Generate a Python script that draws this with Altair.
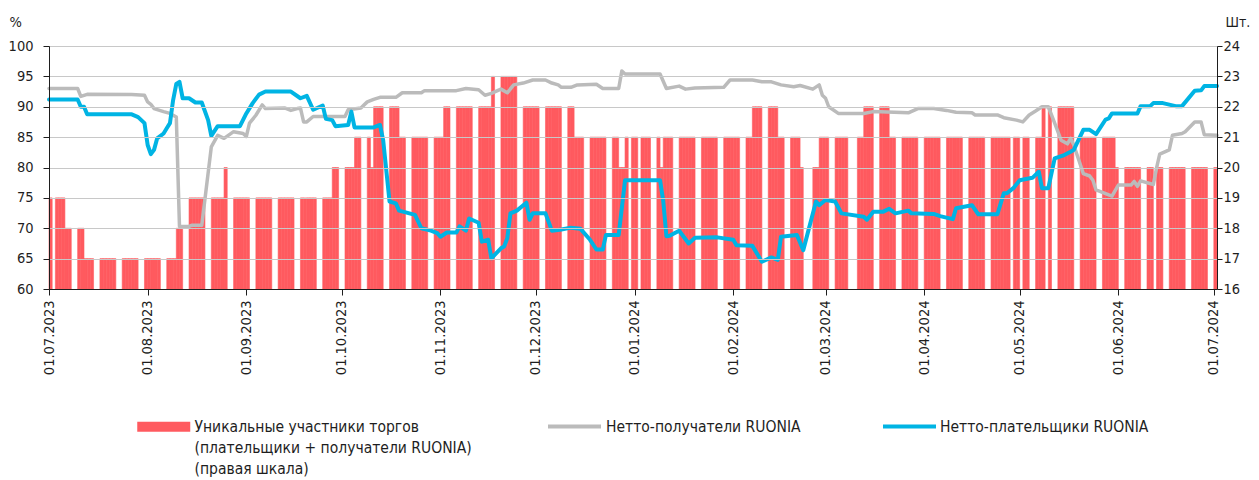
import altair as alt
import pandas as pd

RED = "#FF5A5F"
GREY = "#BBBBBB"
BLUE = "#00B4E4"
INK = "#1E1E1E"
FONT = "DejaVu Sans Condensed, DejaVu Sans, sans-serif"

# ---- bars: unique participants (right scale), runs of trading days ----
bar_run_start = ["2023-07-01", "2023-07-03", "2023-07-06", "2023-07-12", "2023-08-10", "2023-08-14",
                 "2023-08-25", "2023-08-28", "2023-09-28", "2023-10-05", "2023-10-10", "2023-10-11",
                 "2023-10-19", "2023-11-02", "2023-11-17", "2023-11-27", "2023-12-13", "2023-12-27",
                 "2023-12-29", "2023-12-31", "2024-01-01", "2024-01-03", "2024-01-09", "2024-01-10",
                 "2024-02-07", "2024-02-15", "2024-02-22", "2024-02-26", "2024-02-28", "2024-03-11",
                 "2024-03-13", "2024-03-21", "2024-04-27", "2024-04-29", "2024-05-02", "2024-05-08",
                 "2024-05-10", "2024-05-13", "2024-05-20", "2024-05-31", "2024-06-13"]
bar_run_end = ["2023-07-01", "2023-07-05", "2023-07-11", "2023-08-09", "2023-08-11", "2023-08-24",
               "2023-08-25", "2023-09-27", "2023-10-04", "2023-10-09", "2023-10-10", "2023-10-18",
               "2023-11-01", "2023-11-16", "2023-11-24", "2023-12-12", "2023-12-26", "2023-12-28",
               "2023-12-29", "2023-12-31", "2024-01-01", "2024-01-08", "2024-01-09", "2024-02-06",
               "2024-02-14", "2024-02-21", "2024-02-22", "2024-02-27", "2024-03-07", "2024-03-12",
               "2024-03-20", "2024-04-26", "2024-04-27", "2024-04-30", "2024-05-07", "2024-05-08",
               "2024-05-10", "2024-05-17", "2024-05-30", "2024-06-11", "2024-07-01"]
bar_run_value = [19, 19, 18, 17, 18, 19,
                 20, 19, 20, 21, 20, 22,
                 21, 22, 23, 22, 21, 20,
                 21, 21, 21, 21, 20, 21,
                 22, 21, 20, 20, 21, 21,
                 22, 21, 21, 21, 21, 22,
                 22, 22, 21, 20, 20]

# ---- lines: share of net receivers / net payers, % (left scale) ----
grey_dates = ["2023-07-01", "2023-07-10", "2023-07-11", "2023-07-13", "2023-07-27", "2023-07-31", "2023-08-01",
              "2023-08-02", "2023-08-03", "2023-08-06", "2023-08-08", "2023-08-10", "2023-08-11", "2023-08-14",
              "2023-08-15", "2023-08-18", "2023-08-21", "2023-08-23", "2023-08-25", "2023-08-28", "2023-08-31",
              "2023-09-01", "2023-09-02", "2023-09-04", "2023-09-06", "2023-09-07", "2023-09-13", "2023-09-15",
              "2023-09-17", "2023-09-18", "2023-09-19", "2023-09-20", "2023-09-22", "2023-10-02", "2023-10-03",
              "2023-10-07", "2023-10-09", "2023-10-11", "2023-10-13", "2023-10-18", "2023-10-20", "2023-10-26",
              "2023-10-27", "2023-11-06", "2023-11-09", "2023-11-13", "2023-11-15", "2023-11-17", "2023-11-20",
              "2023-11-22", "2023-11-24", "2023-11-27", "2023-11-30", "2023-12-04", "2023-12-06", "2023-12-08",
              "2023-12-09", "2023-12-12", "2023-12-14", "2023-12-20", "2023-12-22", "2023-12-27", "2023-12-28",
              "2023-12-29", "2024-01-09", "2024-01-11", "2024-01-15", "2024-01-17", "2024-01-20", "2024-01-29",
              "2024-01-31", "2024-02-07", "2024-02-10", "2024-02-13", "2024-02-16", "2024-02-20", "2024-02-22",
              "2024-02-26", "2024-02-28", "2024-02-29", "2024-03-01", "2024-03-02", "2024-03-05", "2024-03-13",
              "2024-03-16", "2024-03-27", "2024-03-30", "2024-04-04", "2024-04-08", "2024-04-11", "2024-04-16",
              "2024-04-17", "2024-04-24", "2024-04-26", "2024-04-30", "2024-05-02", "2024-05-04", "2024-05-06",
              "2024-05-08", "2024-05-10", "2024-05-12", "2024-05-14", "2024-05-16", "2024-05-17", "2024-05-18",
              "2024-05-21", "2024-05-23", "2024-05-24", "2024-05-25", "2024-05-28", "2024-05-30", "2024-06-01",
              "2024-06-05", "2024-06-06", "2024-06-07", "2024-06-08", "2024-06-12", "2024-06-13", "2024-06-14",
              "2024-06-17", "2024-06-18", "2024-06-21", "2024-06-22", "2024-06-25", "2024-06-27", "2024-06-28",
              "2024-07-02"]
grey_values = [93.0, 93.0, 91.7, 92.05, 92.0, 91.9, 90.8,
               90.4, 89.7, 89.2, 88.9, 88.3, 70.3, 70.3,
               70.5, 70.5, 83.4, 85.3, 84.8, 85.9, 85.6,
               85.1, 87.3, 88.6, 90.3, 89.7, 89.8, 89.4,
               89.7, 89.8, 87.5, 87.5, 88.4, 88.4, 89.5,
               89.8, 90.8, 91.2, 91.55, 91.55, 92.3, 92.3,
               92.65, 92.65, 93.0, 92.8, 91.9, 92.2, 92.9,
               92.3, 93.6, 93.9, 94.4, 94.4, 93.9, 93.6,
               93.2, 93.2, 93.6, 93.7, 93.0, 93.0, 95.9,
               95.4, 95.4, 93.0, 93.4, 92.9, 93.1, 93.2,
               94.4, 94.4, 94.1, 94.1, 93.6, 93.3, 93.5,
               92.9, 93.6, 91.9, 91.4, 90.0, 88.9, 88.9,
               89.2, 89.0, 89.7, 89.7, 89.4, 89.1, 89.0,
               88.65, 88.65, 88.2, 87.8, 87.5, 88.65, 89.3,
               90.0, 90.0, 87.3, 84.5, 83.9, 84.8, 83.7,
               79.0, 78.6, 77.9, 76.3, 75.7, 75.3, 77.1,
               77.1, 77.7, 76.9, 77.8, 77.2, 79.9, 82.2,
               82.9, 85.3, 85.6, 85.9, 87.5, 87.5, 85.4,
               85.3]

blue_dates = ["2023-07-01", "2023-07-10", "2023-07-11", "2023-07-12", "2023-07-13", "2023-07-27", "2023-07-29",
              "2023-07-31", "2023-08-01", "2023-08-02", "2023-08-03", "2023-08-04", "2023-08-06", "2023-08-07",
              "2023-08-08", "2023-08-09", "2023-08-10", "2023-08-11", "2023-08-12", "2023-08-14", "2023-08-16",
              "2023-08-18", "2023-08-20", "2023-08-21", "2023-08-23", "2023-08-30", "2023-09-01", "2023-09-03",
              "2023-09-05", "2023-09-07", "2023-09-15", "2023-09-18", "2023-09-20", "2023-09-22", "2023-09-25",
              "2023-09-26", "2023-09-28", "2023-09-29", "2023-10-03", "2023-10-04", "2023-10-05", "2023-10-11",
              "2023-10-13", "2023-10-14", "2023-10-16", "2023-10-18", "2023-10-19", "2023-10-24", "2023-10-26",
              "2023-10-29", "2023-10-31", "2023-11-01", "2023-11-03", "2023-11-06", "2023-11-07", "2023-11-09",
              "2023-11-10", "2023-11-13", "2023-11-14", "2023-11-16", "2023-11-17", "2023-11-20", "2023-11-21",
              "2023-11-22", "2023-11-23", "2023-11-25", "2023-11-28", "2023-11-29", "2023-11-30", "2023-12-04",
              "2023-12-06", "2023-12-09", "2023-12-12", "2023-12-15", "2023-12-18", "2023-12-20", "2023-12-22",
              "2023-12-23", "2023-12-27", "2023-12-29", "2024-01-09", "2024-01-10", "2024-01-11", "2024-01-12",
              "2024-01-15", "2024-01-18", "2024-01-20", "2024-01-27", "2024-02-01", "2024-02-02", "2024-02-07",
              "2024-02-10", "2024-02-13", "2024-02-15", "2024-02-16", "2024-02-21", "2024-02-23", "2024-02-27",
              "2024-02-28", "2024-03-01", "2024-03-04", "2024-03-06", "2024-03-13", "2024-03-14", "2024-03-16",
              "2024-03-19", "2024-03-21", "2024-03-23", "2024-03-27", "2024-03-28", "2024-04-04", "2024-04-06",
              "2024-04-10", "2024-04-11", "2024-04-16", "2024-04-18", "2024-04-24", "2024-04-26", "2024-04-27",
              "2024-04-29", "2024-05-01", "2024-05-05", "2024-05-07", "2024-05-08", "2024-05-10", "2024-05-12",
              "2024-05-15", "2024-05-17", "2024-05-18", "2024-05-21", "2024-05-23", "2024-05-25", "2024-05-28",
              "2024-05-29", "2024-05-30", "2024-06-07", "2024-06-08", "2024-06-11", "2024-06-12", "2024-06-15",
              "2024-06-19", "2024-06-21", "2024-06-25", "2024-06-27", "2024-06-28", "2024-07-02"]
blue_values = [91.2, 91.2, 90.0, 90.0, 88.75, 88.75, 88.3,
               87.3, 83.7, 82.2, 82.9, 84.8, 85.6, 86.45,
               87.3, 91.1, 93.75, 94.1, 91.4, 91.4, 90.7,
               90.7, 87.8, 85.2, 86.8, 86.8, 88.9, 90.6,
               92.0, 92.5, 92.5, 91.4, 91.8, 89.5, 90.2,
               88.0, 87.8, 86.8, 87.0, 89.2, 86.6, 86.6,
               87.0, 84.5, 74.4, 74.1, 72.9, 72.2, 70.0,
               69.6, 69.2, 68.6, 69.3, 69.3, 70.3, 69.6,
               71.6, 70.9, 67.8, 68.1, 65.05, 66.7, 67.0,
               68.35, 72.45, 72.9, 74.2, 71.4, 72.45, 72.45,
               69.6, 69.8, 70.1, 69.9, 68.1, 66.5, 66.5,
               68.9, 68.9, 77.9, 77.9, 74.5, 68.7, 68.75,
               69.6, 67.5, 68.45, 68.5, 68.1, 67.2, 67.1,
               64.5, 65.2, 64.8, 68.6, 68.9, 66.4, 74.4,
               73.8, 74.65, 74.4, 72.45, 71.9, 71.4, 72.7,
               72.7, 73.2, 72.45, 72.9, 72.45, 72.35, 72.0,
               71.5, 73.3, 73.8, 72.3, 72.3, 75.75, 75.75,
               76.6, 77.9, 78.3, 79.3, 76.6, 76.6, 81.5,
               82.05, 82.6, 82.9, 86.2, 86.2, 85.5, 87.9,
               88.1, 88.9, 88.9, 90.1, 90.1, 90.6, 90.6,
               90.1, 90.1, 92.65, 92.7, 93.4, 93.4]

month_ticks = ["2023-07-01", "2023-08-01", "2023-09-01", "2023-10-01", "2023-11-01", "2023-12-01",
               "2024-01-01", "2024-02-01", "2024-03-01", "2024-04-01", "2024-05-01", "2024-06-01",
               "2024-07-01"]
left_ticks = [60, 65, 70, 75, 80, 85, 90, 95, 100]
right_ticks = [16, 17, 18, 19, 20, 21, 22, 23, 24]

BAR_LABELS = ["Уникальные участники торгов", "(плательщики + получатели RUONIA)", "(правая шкала)"]
GREY_LABEL = "Нетто-получатели RUONIA"
BLUE_LABEL = "Нетто-плательщики RUONIA"

# ---- build tables ----
rows = []
for s, e, v in zip(bar_run_start, bar_run_end, bar_run_value):
    days = pd.date_range(s, e, freq="D")
    if s != e:
        days = [d for d in days if d.weekday() < 5]
    for d in days:
        rows.append({"date": d.strftime("%Y-%m-%d"),
                     "date_end": (d + pd.Timedelta(days=1)).strftime("%Y-%m-%d"),
                     "value": v, "series": BAR_LABELS[0]})
bar_df = pd.DataFrame(rows)
grey_df = pd.DataFrame({"date": grey_dates, "value": grey_values, "series": GREY_LABEL})
blue_df = pd.DataFrame({"date": blue_dates, "value": blue_values, "series": BLUE_LABEL})


def dt(s):
    y, m, d = (int(p) for p in s.split("-"))
    return alt.DateTime(year=y, month=m, date=d, utc=True)


x_scale = alt.Scale(type="utc", domain=[dt("2023-07-01"), dt("2024-07-02")])
x_axis = alt.Axis(values=[dt(t) for t in month_ticks], format="%d.%m.%Y", labelAngle=270,
                  labelAlign="right", labelBaseline="middle", labelPadding=5, tickSize=6,
                  grid=False, title=None, labelOverlap=False, labelFlush=False,
                  labelFont=FONT, labelFontSize=14.5, labelColor=INK,
                  domainColor=INK, tickColor=INK, zindex=1)
x_enc = alt.X("date:T", scale=x_scale, axis=x_axis)

left_scale = alt.Scale(domain=[60, 100], nice=False, zero=False)
left_axis = alt.Axis(orient="left", values=left_ticks, grid=True, gridColor="#C8C8C8", gridWidth=1,
                     domainColor=INK, tickColor=INK, tickSize=6, labelPadding=10,
                     labelFont=FONT, labelFontSize=14.5, labelColor=INK,
                     title="%", titleAngle=0, titleX=-40, titleY=-24, titleAlign="left",
                     titleBaseline="middle", titleFont=FONT, titleFontSize=14.5,
                     titleFontWeight="normal", titleColor=INK, zindex=1)
right_axis = alt.Axis(orient="right", values=right_ticks, grid=False,
                      domainColor=INK, tickColor=INK, tickSize=5, labelPadding=1,
                      labelFont=FONT, labelFontSize=14.5, labelColor=INK,
                      title="Шт.", titleAngle=0, titleX=8, titleY=-24, titleAlign="left",
                      titleBaseline="middle", titleFont=FONT, titleFontSize=14,
                      titleFontWeight="normal", titleColor=INK, zindex=1)

bars = alt.Chart(bar_df).mark_bar(stroke=RED, strokeWidth=0.6).encode(
    x=x_enc,
    x2="date_end:T",
    y=alt.Y("value:Q", scale=alt.Scale(domain=[16, 24], nice=False, zero=False), axis=right_axis),
    y2=alt.datum(16),
    color=alt.Color("series:N",
                    scale=alt.Scale(domain=BAR_LABELS, range=[RED, "transparent", "transparent"]),
                    legend=alt.Legend(title=None, orient="none", direction="vertical",
                                      legendX=107, legendY=373, rowPadding=4,
                                      symbolType="M-5.3,-1H5.3V1H-5.3Z", symbolSize=100,
                                      symbolStrokeWidth=0, labelBaseline="middle",
                                      labelFont=FONT, labelFontSize=15.5, labelColor=INK,
                                      labelLimit=600, labelOffset=23)),
)

grey = alt.Chart(grey_df).mark_line(strokeWidth=3.5, strokeJoin="round", strokeCap="round").encode(
    x=x_enc,
    y=alt.Y("value:Q", scale=left_scale, axis=left_axis),
    color=alt.Color("series:N", scale=alt.Scale(domain=[GREY_LABEL], range=[GREY]),
                    legend=alt.Legend(title=None, orient="none", legendX=497, legendY=352,
                                      symbolType="stroke", symbolSize=2809, symbolStrokeWidth=4,
                                      labelFont=FONT, labelFontSize=15.5, labelColor=INK,
                                      labelLimit=600, labelOffset=3)),
)

blue = alt.Chart(blue_df).mark_line(strokeWidth=4, strokeJoin="round", strokeCap="round").encode(
    x=x_enc,
    y=alt.Y("value:Q", scale=left_scale, axis=None),
    color=alt.Color("series:N", scale=alt.Scale(domain=[BLUE_LABEL], range=[BLUE]),
                    legend=alt.Legend(title=None, orient="none", legendX=832, legendY=352,
                                      symbolType="stroke", symbolSize=2809, symbolStrokeWidth=4,
                                      labelFont=FONT, labelFontSize=15.5, labelColor=INK,
                                      labelLimit=600, labelOffset=2)),
)

chart = alt.layer(bars, grey, blue).resolve_scale(
    y="independent", color="independent"
).resolve_legend(color="independent").properties(
    width=1168, height=243, autosize="none",
    padding={"left": 41, "top": 38, "right": 34, "bottom": 189},
).configure_view(stroke="transparent").configure(background="white")

chart.save("out.html", embed_options={"renderer": "svg", "actions": False})
